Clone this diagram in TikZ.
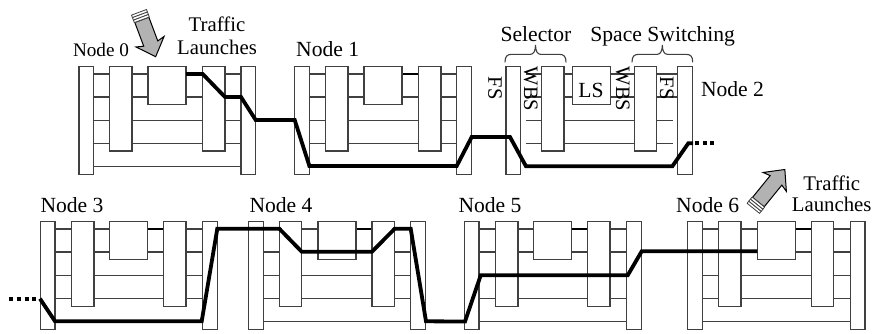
\documentclass[tikz,border=0pt]{standalone}
\usepackage{fontspec}
\setmainfont{Liberation Serif}
\definecolor{wire}{HTML}{404040}
\tikzset{
  wireline/.style={draw=wire,line width=1.3pt},
  darkline/.style={draw=black,line width=1.3pt},
  barbox/.style={draw=wire,fill=white,line width=1.3pt},
  route/.style={draw=black,line width=3.8pt,line join=miter},
  dots/.style={draw=black,line width=3.8pt,dash pattern=on 4pt off 3.6pt},
  lbl/.style={inner sep=0pt,anchor=base,font=\fontsize{21.6}{23}\selectfont},
  smalllbl/.style={inner sep=0pt,anchor=base,font=\fontsize{19.2}{21}\selectfont},
  midlbl/.style={inner sep=0pt,anchor=base,font=\fontsize{20.8}{22}\selectfont},
  vlbl/.style={inner sep=0pt,rotate=-90,font=\fontsize{20.5}{22}\selectfont},
  bracec/.style={draw=wire,line width=1.1pt},
  launchbody/.style={draw=black,fill=black!30,line width=1pt,line join=miter},
  launchtail/.style={draw=wire,fill=white,line width=0.8pt},
}
% x1 x2 xbox x3 x4 ytop
\newcommand\swbars[6]{%
  \begin{scope}[yshift=-#6pt]
  \draw[barbox] (#1,0) rectangle ({#1+14.7},108);
  \draw[barbox] (#2,0) rectangle ({#2+22.3},84.5);
  \draw[barbox] (#4,0) rectangle ({#4+22.3},84.5);
  \draw[barbox] (#5,0) rectangle ({#5+14.7},108);
  \draw[barbox] (#3,0) rectangle ({#3+38},37.6);
  \end{scope}}
\newcommand\swnode[6]{%
  \begin{scope}[yshift=-#6pt]
  \foreach \yy in {7.4,30.4}{
    \draw[wireline] (#1,\yy) -- (#3,\yy);
    \draw[wireline] ({#3+38},\yy) -- (#5,\yy);}
  \foreach \yy in {53.6,77}{\draw[wireline] (#1,\yy) -- (#5,\yy);}
  \draw[wireline] (#1,99.6) -- (#5,99.6);
  \draw[darkline] ({#3+38},7.4) -- (#4,7.4);
  \end{scope}
  \swbars{#1}{#2}{#3}{#4}{#5}{#6}}
\newcommand\topbrace[2]{%
  \pgfmathsetmacro\bmid{(#1+#2)/2}
  \draw[bracec] (#1,62.3) .. controls (#1,56.5) and ({#1+2},54.3) .. ({#1+7},54.3)
    -- ({\bmid-5},54.3) .. controls ({\bmid-2},54.3) and (\bmid,51) .. (\bmid,45)
    .. controls (\bmid,51) and ({\bmid+2},54.3) .. ({\bmid+5},54.3)
    -- ({#2-7},54.3) .. controls ({#2-2},54.3) and (#2,56.5) .. (#2,62.3);}
% tail, page angle, length
\newcommand\launch[4]{%
  \begin{scope}[shift={(#1,#2)},rotate=#3]
  \draw[launchbody] (8,-7.5) -- ({#4-14},-7.5) -- ({#4-16},-15) -- (#4,0) -- ({#4-16},15) -- ({#4-14},7.5) -- (8,7.5) -- cycle;
  \draw[launchtail] (0,-8) rectangle (2.7,8);
  \draw[launchtail] (2.7,-8) rectangle (5.4,8);
  \draw[launchtail] (5.4,-8) rectangle (8,8);
  \end{scope}}
\begin{document}
\begin{tikzpicture}[x=1pt,y=-1pt]
\useasboundingbox[fill=white] (0,0) rectangle (875,333);
% switch nodes
\swnode{79}{109.7}{148}{202.7}{241}{66.6}
\swnode{294.7}{325.7}{364}{418.7}{456.7}{66.6}
\begin{scope}[yshift=-66.6pt]
\foreach \yy in {7.4,30.4}{
  \draw[wireline] (526,\yy) -- (541.7,\yy);
  \draw[wireline] (610.3,\yy) -- (677.7,\yy);
  \draw[wireline] (564,\yy) -- (572.3,\yy);}
\foreach \yy in {53.6,77}{\draw[wireline] (526,\yy) -- (672.5,\yy);}
\end{scope}
\swbars{506}{541.7}{572.3}{634.3}{677.7}{66.6}
\swnode{40.3}{71.7}{109.7}{163.7}{202.7}{221.7}
\swnode{248.7}{279.3}{318}{372}{410.7}{221.7}
\swnode{464.3}{495.7}{533.7}{587.7}{626.7}{221.7}
\swnode{687.7}{718.7}{757.3}{811.3}{850.3}{221.7}
% routes
\draw[route] (186,74) -- (202.7,74) -- (225,97) -- (241,97) -- (255.7,120) -- (294.7,120)
  -- (309.4,166) -- (456.7,166) -- (471.7,137) -- (510,137) -- (526,166.3) -- (672.3,166.3) -- (688.3,143.3) -- (693,143.3);
\draw[dots] (695,143.3) -- (716,143.3);
\draw[dots] (9.3,298.7) -- (37,298.7);
\draw[route] (40,298.7) -- (55,321.3) -- (201.7,321.3) -- (217.3,228.7) -- (279.3,228.7) -- (301.7,251.7) -- (372,251.7)
  -- (394.7,228.7) -- (410.7,228.7) -- (426,321.3) -- (465,321.5) -- (480.7,275.3) -- (627.7,275.3) -- (641.7,251.3) -- (757.3,251.3);
% labels
\node[smalllbl] (n0) at (101,56.7) {Node 0};
\node[lbl] (n1) at (327.7,56.7) {Node 1};
\node[lbl] (n2) at (732.5,96) {Node 2};
\node[lbl] (n3) at (72,212) {Node 3};
\node[lbl] (n4) at (281,212) {Node 4};
\node[lbl] (n5) at (490,212) {Node 5};
\node[lbl] (n6) at (707.7,212) {Node 6};
\node[midlbl] (t1a) at (217,31.7) {Traffic};
\node[midlbl] (t1b) at (217,54) {Launches};
\node[midlbl] (t2a) at (831.7,190) {Traffic};
\node[midlbl] (t2b) at (831.7,211) {Launches};
\node[lbl] (sel) at (536,41) {Selector};
\node[lbl] (ssw) at (662.7,41) {Space Switching};
\node[lbl] (ls) at (591,97.3) {LS};
\node[vlbl] (fs1) at (495,88) {FS};
\node[vlbl] (wbs1) at (530.7,89) {WBS};
\node[vlbl] (wbs2) at (622.7,89) {WBS};
\node[vlbl] (fs2) at (666.7,88) {FS};
\topbrace{505}{566}
\topbrace{632}{692.7}
\launch{139}{12.3}{-69.4}{47.4}
\launch{753.3}{208.3}{50.9}{50}
\end{tikzpicture}
\end{document}
